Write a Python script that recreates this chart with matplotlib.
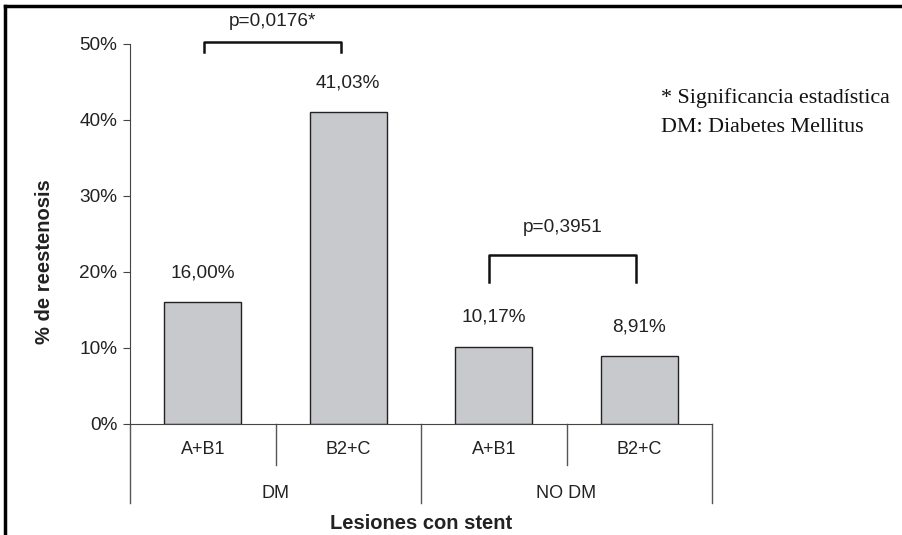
import matplotlib.pyplot as plt
import matplotlib.transforms as mtransforms
from matplotlib.lines import Line2D

plt.rcParams["font.family"] = ["Liberation Sans", "DejaVu Sans"]

subgroups = ["A+B1", "B2+C", "A+B1", "B2+C"]
groups = ["DM", "NO DM"]
values = [16.00, 41.03, 10.17, 8.91]
value_labels = ["16,00%", "41,03%", "10,17%", "8,91%"]
yticks = [0, 10, 20, 30, 40, 50]
pvals = ["p=0,0176*", "p=0,3951"]
notes = ["* Significancia estadística", "DM: Diabetes Mellitus"]

fig = plt.figure(figsize=(9.02, 5.35), dpi=100)
ax = fig.add_axes([130 / 902, 1 - 424 / 535, (712 - 130) / 902, (424 - 44) / 535])

x = [i + 0.5 for i in range(len(values))]
ax.bar(x, values, width=0.53, color="#c8c9cc", edgecolor="#222222", linewidth=1)

fs = 13.7
ax.set_xlim(0, 4)
ax.set_ylim(0, 50)
ax.set_yticks(yticks)
ax.set_yticklabels([f"{t}%" for t in yticks], fontsize=fs, color="#222222")
ax.tick_params(axis="y", direction="out", length=5, color="#444444", pad=4)
ax.set_xticks([])
for s in ["top", "right"]:
    ax.spines[s].set_visible(False)
ax.spines["left"].set_color("#444444")
ax.spines["bottom"].set_color("#444444")

# value labels
for xi, v, lab in zip(x, values, value_labels):
    ax.text(xi, v + 3.9, lab, ha="center", va="center", fontsize=fs, color="#222222")

# category axis with separators
trans = mtransforms.blended_transform_factory(ax.transData, ax.transAxes)
for xd in [0, 2, 4]:
    ax.add_line(Line2D([xd, xd], [0, -0.208], transform=trans, color="#555555", lw=1, clip_on=False))
for xd in [1, 3]:
    ax.add_line(Line2D([xd, xd], [0, -0.108], transform=trans, color="#555555", lw=1, clip_on=False))
for xi, lab in zip(x, subgroups):
    ax.text(xi, -0.068, lab, transform=trans, ha="center", va="center", fontsize=13, color="#222222")
for gi, lab in enumerate(groups):
    ax.text(gi * 2 + 1, -0.182, lab, transform=trans, ha="center", va="center", fontsize=13, color="#222222")

ax.text(0.5, -0.263, "Lesiones con stent", transform=ax.transAxes, ha="center", va="center",
        fontsize=14.5, fontweight="bold", color="#222222")
fig.text(45 / 902, 1 - 262 / 535, "% de reestenosis", rotation=90, ha="center", va="center",
         fontsize=14.5, fontweight="bold", color="#222222")

# significance brackets
brackets = [(0.51, 1.45, 50.3, 49.0, 53.0), (2.47, 3.48, 22.2, 18.7, 25.8)]
for (x0, x1, ytop, ybot, ytxt), p in zip(brackets, pvals):
    ax.plot([x0, x0, x1, x1], [ybot, ytop, ytop, ybot], color="#111111", lw=1.8, clip_on=False)
    ax.text((x0 + x1) / 2, ytxt, p, ha="center", va="center", fontsize=fs, color="#222222")

# notes
for i, n in enumerate(notes):
    fig.text(661 / 902, 1 - (98 + i * 29) / 535, n, ha="left", va="center",
             fontsize=15.8, family="Liberation Serif", color="#111111")

# frame
fig.add_artist(Line2D([5 / 902, 5 / 902], [0, 1 - 6 / 535], transform=fig.transFigure, color="black", lw=2.5))
fig.add_artist(Line2D([5 / 902, 1], [1 - 6 / 535, 1 - 6 / 535], transform=fig.transFigure, color="black", lw=2.5))

fig.savefig("out.png", dpi=100)
